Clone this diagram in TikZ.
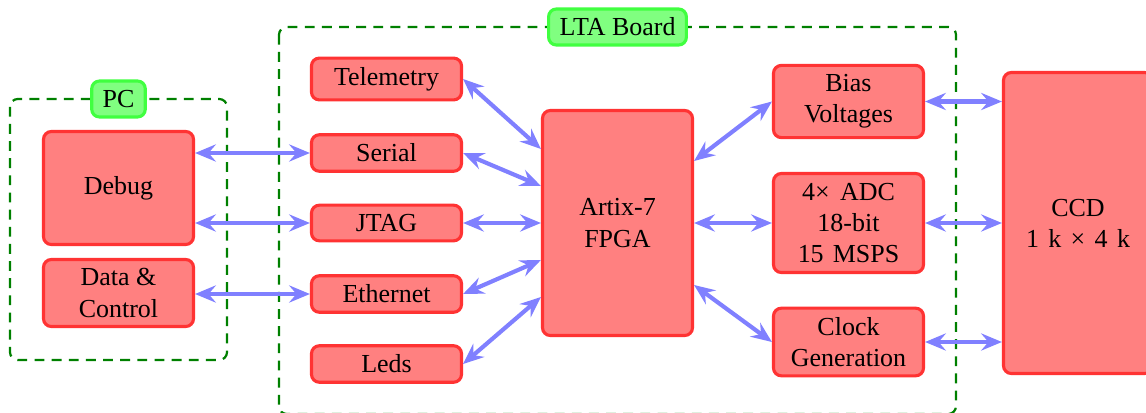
\documentclass[tikz,border=0pt]{standalone}
\usepackage{fontspec}
\setmainfont{Liberation Serif}
\usetikzlibrary{arrows.meta,calc}
\def\pu{0.385pt}
\tikzset{
  blk/.style={draw=red!80, fill=red!50, line width=1.2pt, rounded corners=3pt,
    align=center, inner xsep=3.2pt, inner ysep=3.5pt, minimum width=150*\pu},
  lbl/.style={draw=green!75, fill=green!50, line width=1.2pt, rounded corners=3pt,
    inner xsep=4.2pt, inner ysep=2.5pt, minimum height=36*\pu},
  frame/.style={draw=green!50!black, line width=0.85pt, dash pattern=on 3.8pt off 2.8pt, rounded corners=3pt},
  link/.style={draw=blue!50, line width=1.6pt,
    {Stealth[length=8pt,width=6.6pt,inset=2.8pt]}-{Stealth[length=8pt,width=6.6pt,inset=2.8pt]}}
}
\begin{document}
\begin{tikzpicture}[x=\pu, y=-\pu]
\useasboundingbox (0,0) rectangle (1146,413);
% frames
\draw[frame] (10,99) rectangle (227,360);
\draw[frame] (279,27) rectangle (956,414);
\node[lbl] (pclbl) at (118.5,99) {PC};
\node[lbl] (ltalbl) at (617.5,27) {LTA Board};
% PC
\node[blk, minimum height=113*\pu] (debug) at (118.5,188) {Debug};
\node[blk, minimum height=67*\pu] (data) at (118.5,293) {Data \&\\Control};
% left column
\node[blk] (tele) at (386.5,79) {Telemetry};
\node[blk] (serial) at (386.5,153) {Serial};
\node[blk] (jtag) at (386.5,223) {JTAG};
\node[blk] (eth) at (386.5,294) {Ethernet};
\node[blk] (leds) at (386.5,364) {Leds};
% FPGA
\node[blk, minimum height=225*\pu] (fpga) at (617.5,223) {Artix-7\\FPGA};
% right column
\node[blk, minimum height=72*\pu] (bias) at (848.5,101.5) {Bias\\Voltages};
\node[blk, minimum height=99*\pu] (adc) at (848.5,223) {4×\hspace{4pt}ADC\\18-bit\\15\hspace{3.5pt}MSPS};
\node[blk, minimum height=67*\pu] (clk) at (848.5,342) {Clock\\Generation};
% CCD
\node[blk, minimum width=149*\pu, minimum height=301*\pu] (ccd) at (1078,223)
  {CCD\\1\hspace{3.6pt}k\hspace{3.6pt}×\hspace{3.6pt}4\hspace{3.6pt}k};
% PC links
\draw[link] (serial.west -| debug.east) -- (serial.west);
\draw[link] (jtag.west -| debug.east) -- (jtag.west);
\draw[link] (eth.west -| data.east) -- (eth.west);
% FPGA left links
\draw[link] (tele.east) -- ($(fpga.west)+(0,-74)$);
\draw[link] (serial.east) -- ($(fpga.west)+(0,-37)$);
\draw[link] (jtag.east) -- (fpga.west);
\draw[link] (eth.east) -- ($(fpga.west)+(0,37)$);
\draw[link] (leds.east) -- ($(fpga.west)+(0,74)$);
% FPGA right links
\draw[link] ($(fpga.east)+(0,-62)$) -- (bias.west);
\draw[link] (fpga.east) -- (adc.west);
\draw[link] ($(fpga.east)+(0,62)$) -- (clk.west);
% CCD links
\draw[link] (bias.east) -- (bias.east -| ccd.west);
\draw[link] (adc.east) -- (ccd.west);
\draw[link] (clk.east) -- (clk.east -| ccd.west);
\end{tikzpicture}
\end{document}
